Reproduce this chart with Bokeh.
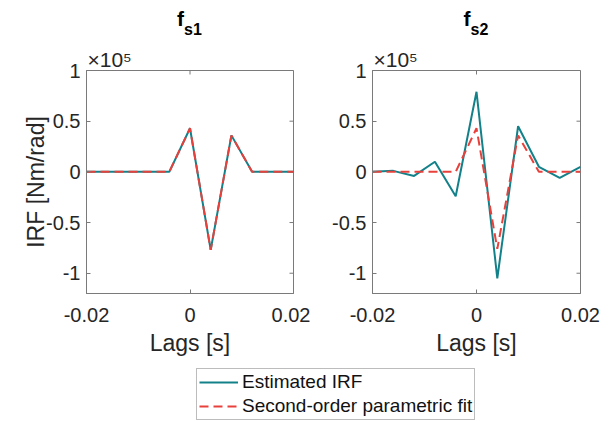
from bokeh.plotting import figure
from bokeh.models import Range1d, FixedTicker, LinearAxis, Label, Legend, LegendItem, Title
from bokeh.layouts import row, column
from bokeh.embed import file_html
from bokeh.resources import INLINE

# ---- data ----
lags = [-0.02, -0.016, -0.012, -0.008, -0.004, 0.0, 0.004, 0.008, 0.012, 0.016, 0.02]
est_s1 = [0, 0, 0, 0, 0, 43000, -77000, 36000, 0, 0, 0]
fit_s1 = [0, 0, 0, 0, 0, 43000, -77000, 36000, 0, 0, 0]
est_s2 = [0, 1000, -4000, 10000, -24000, 79000, -105000, 45000, 5000, -6000, 5000]
fit_s2 = [0, 0, 0, 0, 0, 43000, -76000, 36000, 0, 0, 0]

titles = ["s1", "s2"]
x_ticks = [-0.02, 0, 0.02]
x_tick_labels = ["-0.02", "0", "0.02"]
y_ticks = [-100000, -50000, 0, 50000, 100000]
y_tick_labels = ["-1", "-0.5", "0", "0.5", "1"]
multiplier = "\u00d710\u2075"   # x10^5

FONT = "Liberation Sans"
TEAL = "#138189"
RED = "#E8413C"
AXC = "#7a7a7a"
TXT = "#262626"

# ---- layout constants (pixels) ----
HEAD_H = 40
TOTAL_W = 605
FRAME_W1, FRAME_W2 = 207, 208
BL1, BR1 = 86, 17
BL2, BR2 = 62, 25
TOP_B, FRAME_H, BOT_B = 30, 223, 75
TICK = 4
W1 = BL1 + FRAME_W1 + BR1
W2 = BL2 + FRAME_W2 + BR2
frame_lefts = [BL1, W1 + BL2]
frame_widths = [FRAME_W1, FRAME_W2]
X0, X1 = -0.02, 0.02
Y0, Y1 = -120000, 100000


def make_panel(est, fit, ylabel, width, bl, br, fw):
    ttl = Title(text=multiplier, align="left", offset=1, standoff=0,
                text_font=FONT, text_font_size="21px", text_font_style="normal",
                text_color=TXT)
    p = figure(width=width, height=TOP_B + FRAME_H + BOT_B, output_backend="svg",
               toolbar_location=None, title=ttl,
               x_range=Range1d(X0, X1), y_range=Range1d(Y0, Y1),
               min_border_left=bl, min_border_right=br, min_border_top=TOP_B,
               min_border_bottom=BOT_B, x_axis_type=None, y_axis_type=None)
    p.xgrid.visible = False
    p.ygrid.visible = False
    p.outline_line_color = AXC
    p.outline_line_width = 1
    p.background_fill_color = "white"
    p.border_fill_color = "white"

    xt = FixedTicker(ticks=x_ticks)
    yt = FixedTicker(ticks=y_ticks)
    xo = {k: v for k, v in zip(x_ticks, x_tick_labels)}
    yo = {k: v for k, v in zip(y_ticks, y_tick_labels)}

    def style(ax):
        ax.axis_line_color = AXC
        ax.major_tick_line_color = AXC
        ax.major_tick_in = TICK
        ax.major_tick_out = 0
        ax.minor_tick_line_color = None
        ax.major_label_text_font = FONT
        ax.major_label_text_color = TXT
        ax.major_label_text_font_size = "20px"
        ax.axis_label_text_font = FONT
        ax.axis_label_text_font_size = "23px"
        ax.axis_label_text_font_style = "normal"
        ax.axis_label_text_color = TXT

    xb = LinearAxis(ticker=xt, major_label_overrides=xo, axis_label="Lags [s]")
    style(xb)
    xb.major_label_standoff = 14
    xb.axis_label_standoff = 5
    p.add_layout(xb, "below")

    yl = LinearAxis(ticker=yt, major_label_overrides=yo)
    if ylabel:
        yl.axis_label = ylabel
    style(yl)
    yl.major_label_standoff = 6
    yl.axis_label_standoff = -6
    p.add_layout(yl, "left")

    # inward tick marks on the top and right edges of the box
    dy = TICK * (Y1 - Y0) / FRAME_H
    dx = TICK * (X1 - X0) / fw
    p.segment(x0=x_ticks, y0=[Y1] * len(x_ticks), x1=x_ticks, y1=[Y1 - dy] * len(x_ticks),
              line_color=AXC, line_width=1)
    p.segment(x0=[X1] * len(y_ticks), y0=y_ticks, x1=[X1 - dx] * len(y_ticks), y1=y_ticks,
              line_color=AXC, line_width=1)

    p.line(lags, est, line_color=TEAL, line_width=2)
    p.line(lags, fit, line_color=RED, line_width=2, line_dash="9 5")
    return p


p1 = make_panel(est_s1, fit_s1, "IRF [Nm/rad]", W1, BL1, BR1, FRAME_W1)
p2 = make_panel(est_s2, fit_s2, None, W2, BL2, BR2, FRAME_W2)

# ---- header strip: subplot titles f_{s1}, f_{s2} ----
head = figure(width=TOTAL_W, height=HEAD_H, output_backend="svg", toolbar_location=None,
              title=None, x_range=Range1d(0, TOTAL_W), y_range=Range1d(0, HEAD_H),
              x_axis_type=None, y_axis_type=None, min_border=0)
head.xgrid.visible = False
head.ygrid.visible = False
head.outline_line_color = None


def head_label(x, top, text, size, bold=False, color="black"):
    head.add_layout(Label(x=x, y=HEAD_H - top, text=text, text_font=FONT,
                          text_font_size=f"{size}px",
                          text_font_style="bold" if bold else "normal",
                          text_color=color, text_baseline="top", text_align="left"))


for fl, fw, sub in zip(frame_lefts, frame_widths, titles):
    cx = fl + fw / 2
    head_label(cx - 13, 6, "f", 21, bold=True)
    head_label(cx - 6, 20, sub, 16, bold=True)

# ---- legend strip (its glyphs lie outside its visible range) ----
LEG_H = 52
lg = figure(width=TOTAL_W, height=LEG_H, output_backend="svg", toolbar_location=None,
            title=None, x_range=Range1d(10, 11), y_range=Range1d(10, 11),
            x_axis_type=None, y_axis_type=None, min_border=0)
lg.xgrid.visible = False
lg.ygrid.visible = False
lg.outline_line_color = None
le = lg.line(lags, est_s2, line_color=TEAL, line_width=2)
lf = lg.line(lags, fit_s2, line_color=RED, line_width=2, line_dash="9 5")
legend = Legend(items=[LegendItem(label="Estimated IRF", renderers=[le]),
                       LegendItem(label="Second-order parametric fit", renderers=[lf])],
                location=(196, 0), margin=0, padding=2, spacing=2,
                glyph_width=39, glyph_height=20, label_height=20, label_standoff=4,
                label_text_font=FONT, label_text_font_size="19px", label_text_color="#111111",
                border_line_color=AXC, border_line_width=1, background_fill_color="white",
                background_fill_alpha=1.0)
lg.add_layout(legend, "center")

layout = column(head, row(p1, p2), lg)

open("out.html", "w").write(file_html(layout, INLINE))
